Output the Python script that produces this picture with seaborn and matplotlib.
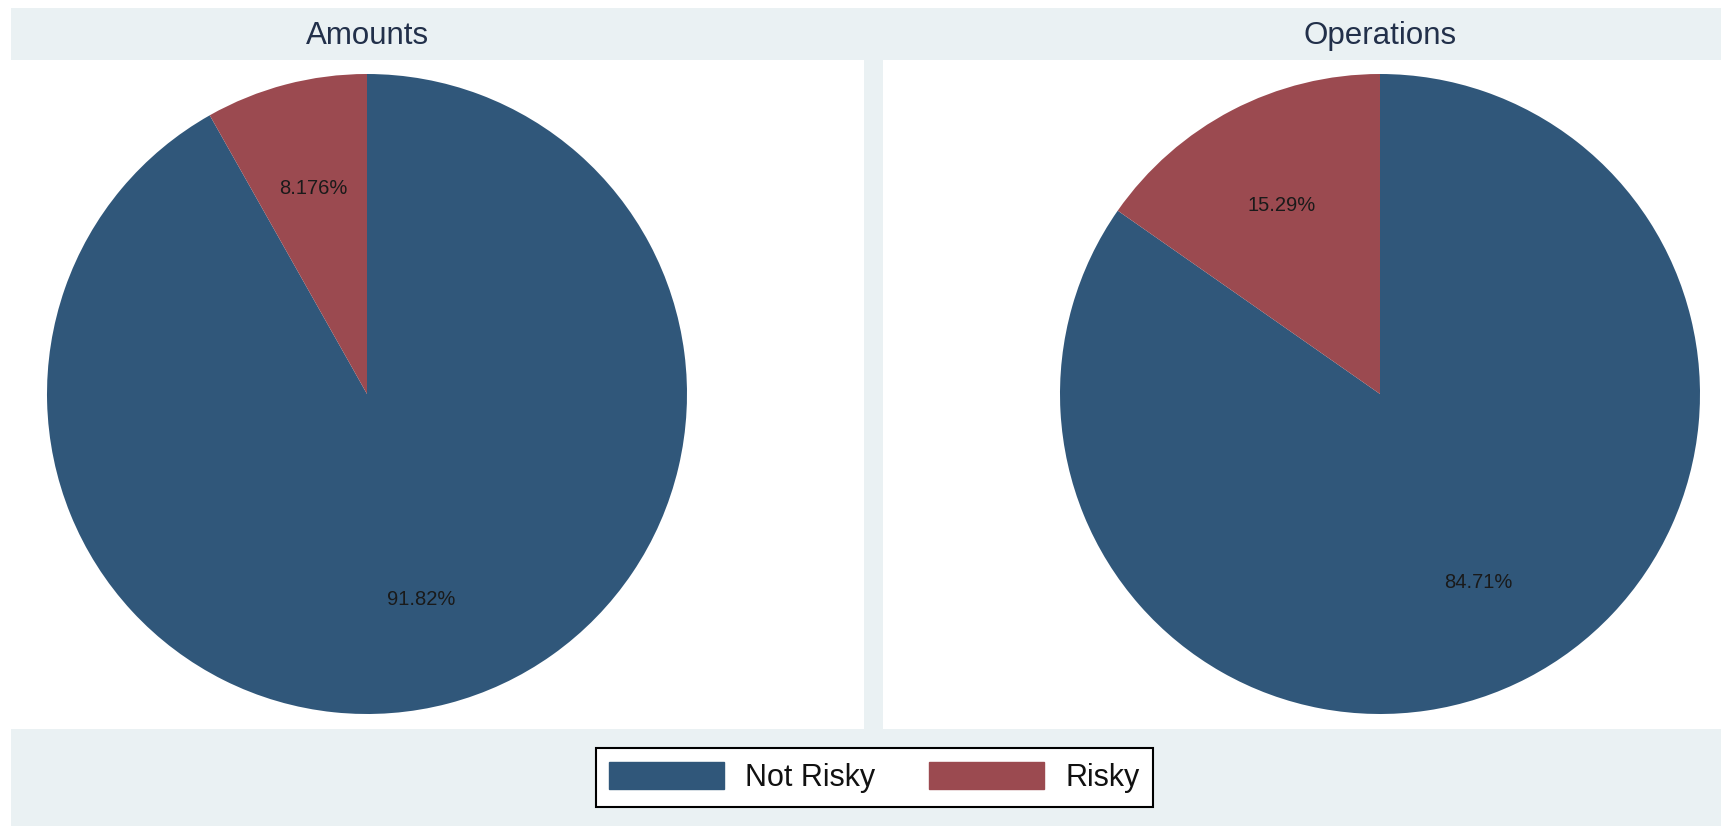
import math
import matplotlib
matplotlib.use("Agg")
import matplotlib.pyplot as plt
from matplotlib.patches import Patch, Rectangle
import seaborn as sns

# ---- data ----
panels = ["Amounts", "Operations"]
categories = ["Not Risky", "Risky"]
amounts_pct = [91.82, 8.176]
operations_pct = [84.71, 15.29]
value_labels = {"Amounts": ["91.82%", "8.176%"], "Operations": ["84.71%", "15.29%"]}
series = {"Amounts": amounts_pct, "Operations": operations_pct}

sns.set_theme(style="white")
plt.rcParams["font.family"] = ["Liberation Sans", "DejaVu Sans"]

colors = ["#30577a", "#9b4a50"]
bg = "#eaf1f3"
title_color = "#22304a"

W, H = 1721, 826
fig = plt.figure(figsize=(W / 100, H / 100), dpi=100, facecolor="white")

# light graph-region band (starts a few pixels in from left/top)
fig.patches.append(Rectangle((11 / W, 0), 1 - 11 / W, 1 - 8 / H,
                             transform=fig.transFigure, facecolor=bg,
                             edgecolor="none", zorder=-10))

def px_axes(x0, y0, x1, y1):
    return fig.add_axes([x0 / W, 1 - y1 / H, (x1 - x0) / W, (y1 - y0) / H])

panel_boxes = [(11, 60, 864, 729), (883, 60, 1721, 729)]
centres = [(367, 394), (1380, 394)]
R = 320.0

for name, box, (cx, cy) in zip(panels, panel_boxes, centres):
    x0, y0, x1, y1 = box
    ax = px_axes(x0, y0, x1, y1)
    ax.set_zorder(1)
    vals = series[name]
    ax.pie(vals, colors=colors, startangle=90, counterclock=False,
           wedgeprops=dict(linewidth=0), radius=1, frame=True)
    ax.set_facecolor("white")
    ax.set_frame_on(True)
    total = sum(vals)
    start = 90.0
    for v, lab in zip(vals, value_labels[name]):
        span = 360.0 * v / total
        mid = math.radians(start - span / 2)
        ax.text(0.665 * math.cos(mid), 0.665 * math.sin(mid), lab,
                ha="center", va="center", fontsize=14.5, color="#1a1a1a")
        start -= span
    ax.set_xlim(-(cx - x0) / R, (x1 - cx) / R)
    ax.set_ylim(-(y1 - cy) / R, (cy - y0) / R)
    ax.set_aspect("auto")
    ax.set_xticks([])
    ax.set_yticks([])
    for s in ax.spines.values():
        s.set_visible(False)
    fig.text(cx / W, 1 - 36 / H, name, ha="center", va="center",
             fontsize=22.5, color=title_color)

handles = [Patch(facecolor=c, edgecolor=c, label=l) for c, l in zip(colors, categories)]
leg = fig.legend(handles=handles, loc="center", bbox_to_anchor=(874.5 / W, 1 - 777.5 / H),
                 ncol=2, frameon=True, fontsize=22, handlelength=3.76, handleheight=0.95,
                 handletextpad=0.69, columnspacing=1.77, borderpad=0.45,
                 fancybox=False, edgecolor="black", facecolor="white", framealpha=1)
leg.set_zorder(5)
leg.get_frame().set_linewidth(1.5)
for t in leg.get_texts():
    t.set_color("#111111")

fig.savefig("out.png", dpi=100, facecolor="white")
